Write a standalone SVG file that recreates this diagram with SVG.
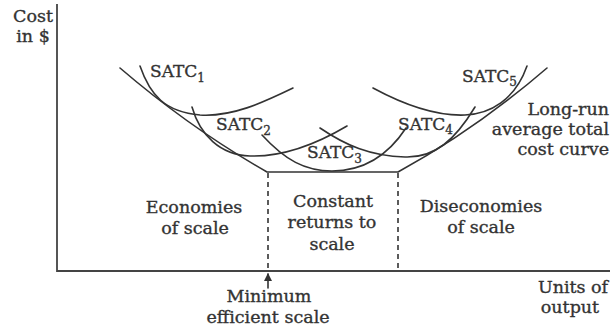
<svg xmlns="http://www.w3.org/2000/svg" width="610" height="335" viewBox="0 0 610 335">
<defs>
<style>
.t{font-family:"DejaVu Serif","Liberation Serif",serif;font-size:17.5px;fill:#333;stroke:#333;stroke-width:0.35;}
.s{font-family:"DejaVu Serif","Liberation Serif",serif;font-size:17px;fill:#333;stroke:#333;stroke-width:0.35;}
.sub{font-size:12px;}
.c{fill:none;stroke:#333;stroke-width:1.6;stroke-linecap:round;}
.ax{fill:none;stroke:#444;stroke-width:1.8;}
.d{fill:none;stroke:#333;stroke-width:1.6;stroke-dasharray:5 4;}
</style>
<marker id="ah" markerWidth="8" markerHeight="10" refX="7" refY="5" orient="auto" markerUnits="userSpaceOnUse">
<path d="M0,1 L8,5 L0,9 Z" fill="#333"/>
</marker>
</defs>
<rect width="610" height="335" fill="#fff"/>
<g id="connectors">
<path class="ax" d="M57,4 V271 H610"/>
<path class="d" d="M268,173 V270"/>
<path class="d" d="M398,173 V270"/>
<path class="c" d="M268,288 V274" marker-end="url(#ah)"/>
</g>
<g id="lratc">
<path class="c" d="M120,68 Q190,128 267,172 H398 Q475,130 547,68"/>
<text class="t" x="609" y="115" text-anchor="end">Long-run</text>
<text class="t" x="609" y="135" text-anchor="end">average total</text>
<text class="t" x="609" y="155" text-anchor="end">cost curve</text>
</g>
<g id="satc1">
<path class="c" d="M140,66 C150,95 165,112 200,115 C232,117 262,103 293,88"/>
<text class="s" x="150" y="77">SATC<tspan class="sub" dy="5">1</tspan></text>
</g>
<g id="satc2">
<path class="c" d="M192,107 C200,135 220,155 250,156 C285,157 320,142 347,126"/>
<text class="s" x="216" y="130">SATC<tspan class="sub" dy="5">2</tspan></text>
</g>
<g id="satc3">
<path class="c" d="M262,135 C285,160 305,171 332,171 C360,171 385,160 406,128"/>
<text class="s" x="307" y="158">SATC<tspan class="sub" dy="5">3</tspan></text>
</g>
<g id="satc4">
<path class="c" d="M320,128 C345,145 370,156 405,157 C435,158 455,140 475,107"/>
<text class="s" x="398" y="130">SATC<tspan class="sub" dy="4">4</tspan></text>
</g>
<g id="satc5">
<path class="c" d="M373,88 C410,108 440,116 465,115 C490,114 515,100 527,66"/>
<text class="s" x="462" y="82">SATC<tspan class="sub" dy="4">5</tspan></text>
</g>
<g id="y-label">
<text class="t" x="33" y="22" text-anchor="middle">Cost</text>
<text class="t" x="33" y="42" text-anchor="middle">in $</text>
</g>
<g id="x-label">
<text class="t" x="573" y="293" text-anchor="middle">Units of</text>
<text class="t" x="570" y="313" text-anchor="middle">output</text>
</g>
<g id="economies">
<text class="t" x="194" y="213" text-anchor="middle">Economies</text>
<text class="t" x="195" y="234" text-anchor="middle">of scale</text>
</g>
<g id="constant">
<text class="t" x="333" y="207" text-anchor="middle">Constant</text>
<text class="t" x="332" y="228" text-anchor="middle">returns to</text>
<text class="t" x="332" y="250" text-anchor="middle">scale</text>
</g>
<g id="diseconomies">
<text class="t" x="481" y="212" text-anchor="middle">Diseconomies</text>
<text class="t" x="481" y="233" text-anchor="middle">of scale</text>
</g>
<g id="mes">
<text class="t" x="269" y="302" text-anchor="middle">Minimum</text>
<text class="t" x="268" y="323" text-anchor="middle">efficient scale</text>
</g>
</svg>
